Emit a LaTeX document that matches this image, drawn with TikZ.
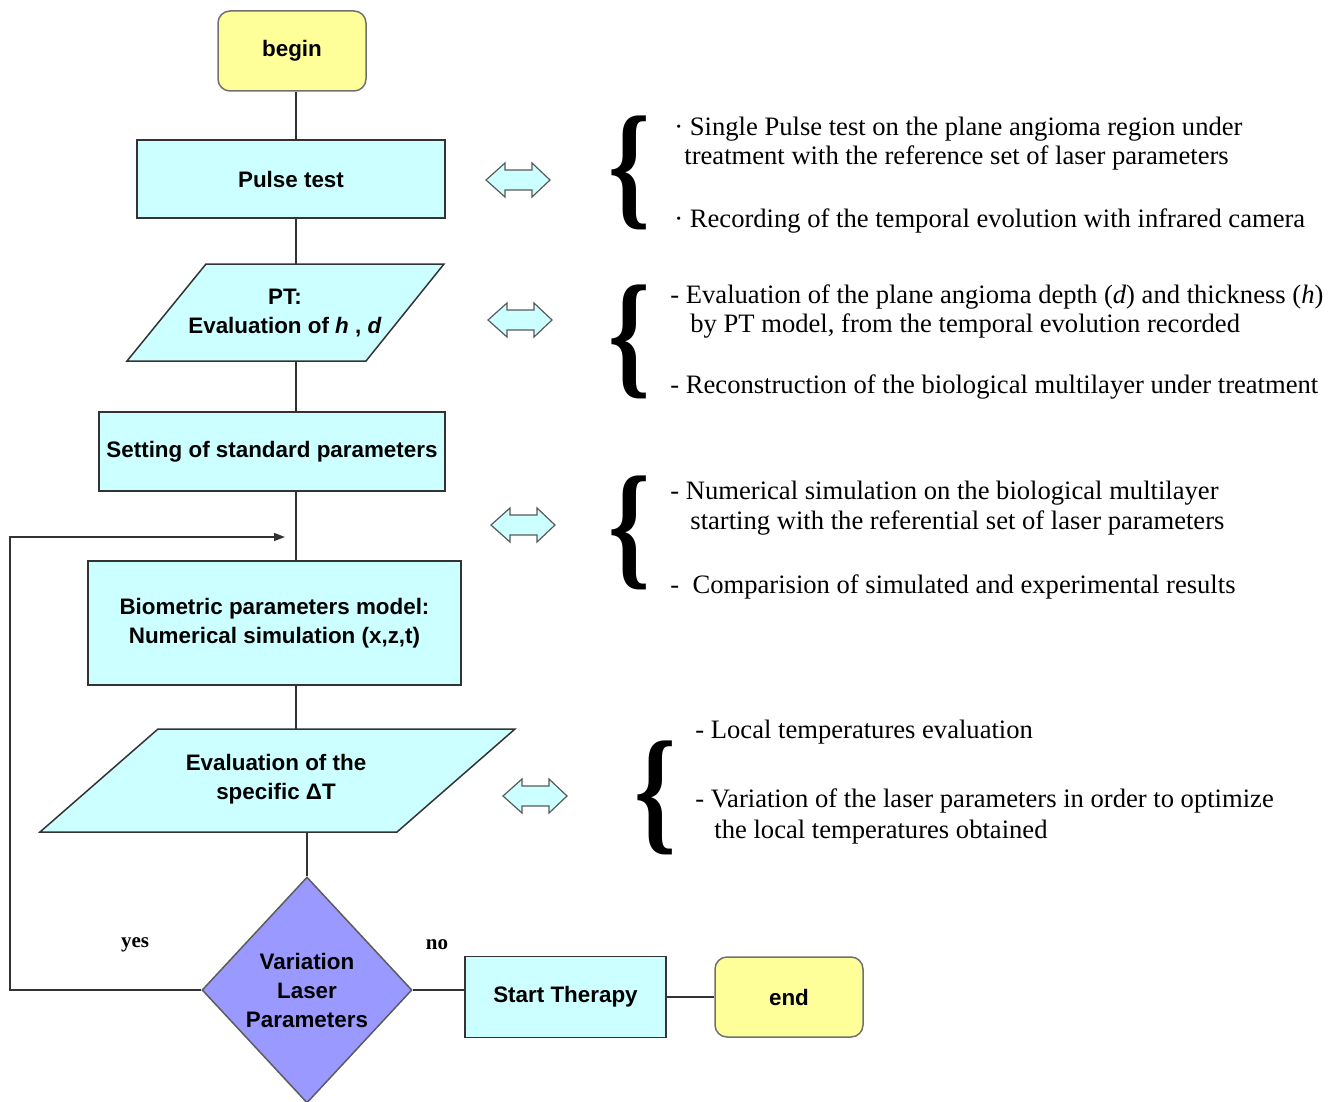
\documentclass[tikz,border=0pt]{standalone}
\usepackage{fontspec}
\setmainfont{Liberation Serif}
\newfontfamily\boxfont{Liberation Sans}
\usetikzlibrary{shapes.geometric,arrows.meta}
\definecolor{boxcyan}{HTML}{CCFFFF}
\definecolor{termyellow}{HTML}{FFFF99}
\definecolor{decviolet}{HTML}{9999FF}
\definecolor{edgegray}{HTML}{333333}

\begin{document}
\begin{tikzpicture}[x=0.5pt,y=-0.5pt,
    proc/.style={draw=edgegray, line width=0.75pt, fill=boxcyan, inner sep=0pt, align=center,
      font=\boxfont\bfseries\fontsize{11.2}{14.5}\selectfont},
    term/.style={proc, fill=termyellow, draw=edgegray!70, rounded corners=6pt},
    io/.style={draw=edgegray, line width=0.75pt, fill=boxcyan},
    iotext/.style={align=center, inner sep=0pt, font=\boxfont\bfseries\fontsize{11.2}{14.5}\selectfont},
    decision/.style={proc, diamond, fill=decviolet, draw=edgegray!80},
    flow/.style={draw=edgegray, line width=0.7pt},
    dblarrow/.style={draw=gray!70!black, line width=0.6pt, fill=boxcyan},
    brace/.style={inner sep=0pt, font=\bfseries},
    note/.style={anchor=base west, inner sep=0pt, font=\fontsize{13.3}{15}\selectfont},
    answer/.style={inner sep=0pt, font=\bfseries\fontsize{10.5}{12}\selectfont}
  ]
  \useasboundingbox (0,0) rectangle (1343,1102);

  % Flow chart boxes
  \node[term, minimum width=74pt, minimum height=40pt] (begin) at (292,51) {begin};
  \node[proc, minimum width=154pt, minimum height=39pt] (pulse) at (291,179) {Pulse test};

  \draw[io] (206,264) -- (444,264) -- (366,361) -- (127,361) -- cycle;
  \node[iotext] (pt) at (285,313) {PT:\\Evaluation of \textit{h} , \textit{d}};
  \coordinate (pt-n) at (296,264);
  \coordinate (pt-s) at (296,361);

  \node[proc, minimum width=173pt, minimum height=39.5pt] (setting) at (272,451.5) {Setting of standard parameters};
  \node[proc, minimum width=186.5pt, minimum height=62pt] (bio) at (274.5,623)
    {Biometric parameters model:\\ Numerical simulation (x,z,t)};

  \draw[io] (158,729) -- (515,729) -- (397,832) -- (40,832) -- cycle;
  \node[iotext] (dt) at (276,779) {Evaluation of the\\specific ΔT};
  \coordinate (dt-n) at (296,729);
  \coordinate (dt-s) at (307,832);

  \node[decision, minimum width=105pt, minimum height=113pt] (var) at (307,990)
    {Variation\\Laser\\Parameters};
  \node[proc, minimum width=100.5pt, minimum height=40.5pt] (start) at (565.5,997) {Start Therapy};
  \node[term, minimum width=74pt, minimum height=40pt] (end) at (789,997) {end};

  \node[answer] (yes) at (135,945) {yes};
  \node[answer] (no) at (437,945) {no};

  % Connectors
  \draw[flow] (begin.south -| pt-n) -- (pulse.north -| pt-n);
  \draw[flow] (pulse.south -| pt-n) -- (pt-n);
  \draw[flow] (pt-s) -- (setting.north -| pt-s);
  \draw[flow] (setting.south -| pt-s) -- (bio.north -| pt-s);
  \draw[flow] (bio.south -| dt-n) -- (dt-n);
  \draw[flow] (dt-s) -- (var.north);
  \draw[flow] (var.east) -- (var.east -| start.west);
  \draw[flow] (start.east) -- (end.west);
  \coordinate (loop-corner) at (10,537);
  \coordinate (loop-in) at (285,537);
  \draw[flow, -{Triangle[length=5.5pt, width=4pt]}] (var.west) -| (loop-corner) -- (loop-in);

  % Double arrows
  \foreach \x/\y in {486/180, 488/320, 491/525, 503/796}
    \draw[dblarrow, shift={(\x,\y)}] (0,0) -- (19,-17) -- (19,-10) -- (46,-10) -- (46,-17)
      -- (64,0) -- (46,17) -- (46,10) -- (19,10) -- (19,17) -- cycle;

  % Braces
  \node[brace] (br1) at (629,173) {\resizebox*{21pt}{57pt}{\{}};
  \node[brace] (br2) at (629,341.5) {\resizebox*{21pt}{57pt}{\{}};
  \node[brace] (br3) at (629,533) {\resizebox*{21pt}{57pt}{\{}};
  \node[brace] (br4) at (655,797.5) {\resizebox*{21pt}{57pt}{\{}};

  % Notes
  \node[note] (n1a) at (674,135) {· Single Pulse test on the plane angioma region under};
  \node[note] (n1b) at (684,164) {treatment with the reference set of laser parameters};
  \node[note] (n1c) at (674,227) {· Recording of the temporal evolution with infrared camera};

  \node[note] (n2a) at (670,303) {- Evaluation of the plane angioma depth (\textit{d}) and thickness (\textit{h})};
  \node[note] (n2b) at (690,332) {by PT model, from the temporal evolution recorded};
  \node[note] (n2c) at (670,393) {- Reconstruction of the biological multilayer under treatment};

  \node[note] (n3a) at (670,499) {- Numerical simulation on the biological multilayer};
  \node[note] (n3b) at (690,529) {starting with the referential set of laser parameters};
  \node[note] (n3c) at (670,593) {-\ \ Comparision of simulated and experimental results};

  \node[note] (n4a) at (695,738) {- Local temperatures evaluation};
  \node[note] (n4b) at (695,807) {- Variation of the laser parameters in order to optimize};
  \node[note] (n4c) at (714,838) {the local temperatures obtained};
\end{tikzpicture}
\end{document}
